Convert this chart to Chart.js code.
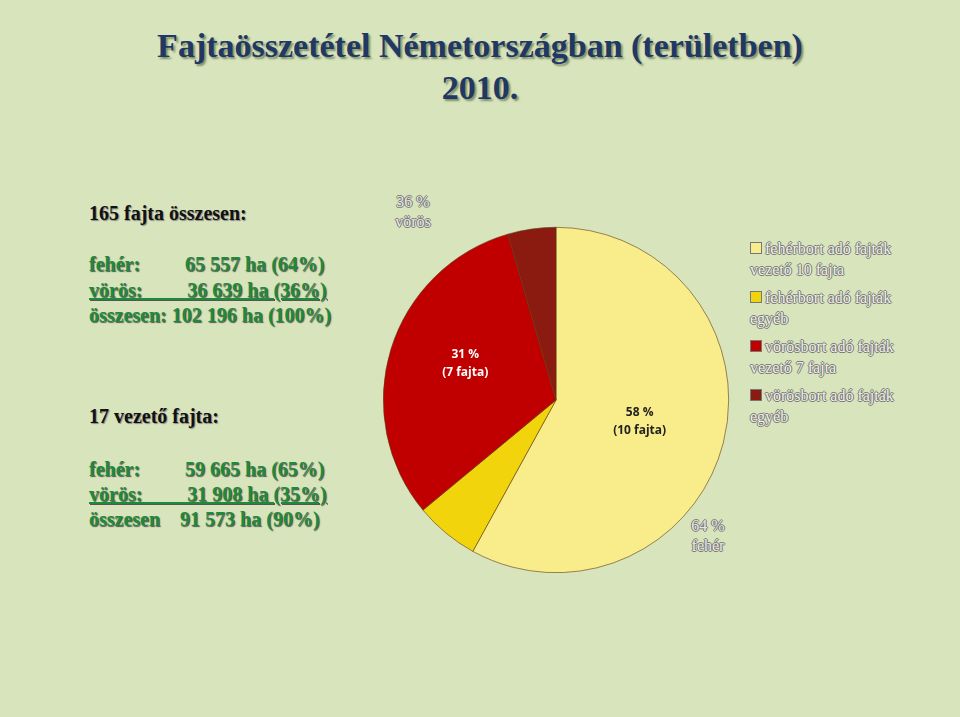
<!DOCTYPE html>
<html>
<head>
<meta charset="utf-8">
<script src="https://cdn.jsdelivr.net/npm/chart.js@4/dist/chart.umd.min.js"></script>
<style>
body { margin:0; background:#fff; }
#slide { position:relative; width:960px; height:717px; background:#d8e4bc; overflow:hidden; }
.t { position:absolute; font-family:"Liberation Serif",serif; font-weight:bold; white-space:pre; }
#title { left:0; width:960px; top:25px; text-align:center; font-size:34px; line-height:42px; color:#1f3864; text-shadow:2px 2px 2px #7f8f6a; }
.g { color:#1e8a3c; font-size:20px; line-height:24px; text-shadow:1px 1px 1px #555; }
.k { color:#111; font-size:20px; text-shadow:1px 1px 1px #888; }
.u { text-decoration:underline; }
.gray { position:absolute; font-family:"Liberation Serif",serif; font-size:16px; color:#e8e8e8; text-shadow:-1px 0 #777,1px 0 #777,0 -1px #777,0 1px #777; text-align:center; line-height:20px; }
#legend { position:absolute; left:750px; top:238px; }
.li { font-family:"Liberation Serif",serif; font-size:16px; color:#f0f0e8; text-shadow:-1px 0 #777,1px 0 #777,0 -1px #777,0 1px #777; line-height:21px; height:49px; }
.sw { display:inline-block; width:10px; height:10px; border:1px solid #777; margin-right:3px; }
#cv { position:absolute; left:376px; top:220px; }
</style>
</head>
<body>
<div id="slide">
  <div id="title" class="t">Fajtaösszetétel Németországban (területben)<br>2010.</div>
  <div class="t k" style="left:89px;top:202px;">165 fajta összesen:</div>
  <div class="t g" style="left:89px;top:252px;">fehér:         65 557 ha (64%)</div>
  <div class="t g u" style="left:89px;top:278px;">vörös:         36 639 ha (36%)</div>
  <div class="t g" style="left:89px;top:303px;">összesen: 102 196 ha (100%)</div>
  <div class="t k" style="left:89px;top:405px;">17 vezető fajta:</div>
  <div class="t g" style="left:89px;top:457px;">fehér:         59 665 ha (65%)</div>
  <div class="t g u" style="left:89px;top:482px;">vörös:         31 908 ha (35%)</div>
  <div class="t g" style="left:89px;top:507px;">összesen    91 573 ha (90%)</div>
  <div class="gray" style="left:388px;top:192px;width:50px;">36 %<br>vörös</div>
  <div class="gray" style="left:683px;top:516px;width:50px;">64 %<br>fehér</div>
  <div id="legend"></div>
  <canvas id="cv" width="360" height="360"></canvas>
</div>
<script>
// Adatok
const categories = ['fehérbort adó fajták\nvezető 10 fajta', 'fehérbort adó fajták\negyéb', 'vörösbort adó fajták\nvezető 7 fajta', 'vörösbort adó fajták\negyéb'];
const shares = [58, 6, 31.5, 4.5];
const colors = ['#f9ec8a', '#f2d40c', '#c00000', '#8b1a10'];
const innerLabels = ['58 %\n(10 fajta)', '', '31 %\n(7 fajta)', ''];
const labelColors = ['#222', '', '#fff', ''];

// Jelmagyarázat
const legend = document.getElementById('legend');
categories.forEach((c, i) => {
    const d = document.createElement('div');
    d.className = 'li';
    d.innerHTML = '<span class="sw" style="background:' + colors[i] + '"></span>' + c.replace('\n', '<br>');
    legend.appendChild(d);
});

const labelPlugin = {
    id: 'inner',
    afterDatasetsDraw(chart) {
        const ctx = chart.ctx;
        chart.getDatasetMeta(0).data.forEach((arc, i) => {
            if (!innerLabels[i]) return;
            const mid = (arc.startAngle + arc.endAngle) / 2;
            const r = arc.outerRadius * (i === 2 ? 0.55 : 0.5);
            const x = arc.x + Math.cos(mid) * r, y = arc.y + Math.sin(mid) * r - (i === 2 ? 8 : 0);
            ctx.save();
            ctx.fillStyle = labelColors[i];
            ctx.font = 'bold 12px "Open Sans", sans-serif';
            ctx.textAlign = 'center';
            ctx.textBaseline = 'middle';
            innerLabels[i].split('\n').forEach((l, j) => ctx.fillText(l, x, y - 9 + j * 18));
            ctx.restore();
        });
    }
};

new Chart(document.getElementById('cv'), {
    type: 'pie',
    data: { labels: categories, datasets: [{ data: shares, backgroundColor: colors, borderColor: '#5a3a10', borderWidth: 0.6 }] },
    options: {
        responsive: false, animation: false,
        layout: { padding: 7 },
        plugins: { legend: { display: false }, tooltip: { enabled: false } }
    },
    plugins: [labelPlugin]
});
</script>
</body>
</html>
